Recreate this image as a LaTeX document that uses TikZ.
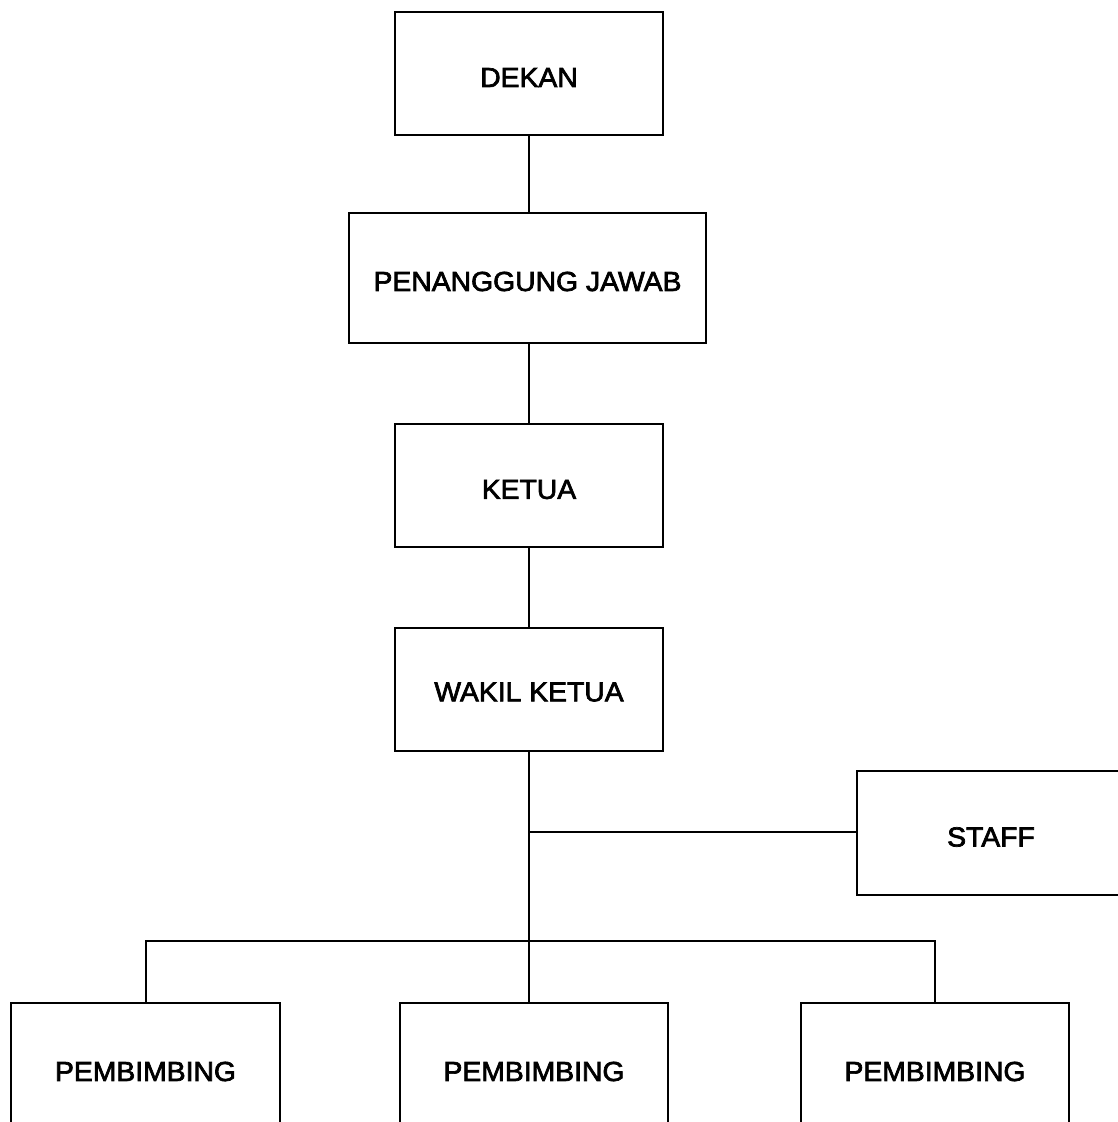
\documentclass[tikz,border=0pt]{standalone}
\usepackage{fontspec}
\setmainfont{Liberation Sans}
\newfontfamily\lab[FakeStretch=1.03,FakeBold=2.5]{Liberation Sans}
\newcommand\lowr[2]{\raisebox{-#1}[\height][\depth]{#2}}
\begin{document}
\begin{tikzpicture}[x=1pt,y=-1pt,
  box/.style={draw=black,line width=2pt,fill=white,minimum width=268pt,minimum height=123pt,inner sep=0pt,font=\lab\fontsize{27.5}{30}\selectfont},
  link/.style={draw=black,line width=2pt}]
\useasboundingbox (0,0) rectangle (1118,1122);
\clip (0,0) rectangle (1118,1122);
\fill[white] (0,0) rectangle (1118,1122);
\node[box] (dekan) at (529,73) {\lowr{4.5pt}{DEKAN}};
\node[box,minimum width=357pt,minimum height=130pt] (pj) at (527.5,278) {\lowr{3.5pt}{PENANGGUNG JAWAB}};
\node[box] (ketua) at (529,485.5) {\lowr{4pt}{KETUA}};
\node[box] (wakil) at (529,689) {\lowr{3pt}{WAKIL KETUA}};
\node[box,minimum height=124pt] (staff) at (991,833) {\lowr{4pt}{STAFF}};
\node[box,minimum width=269pt,minimum height=134pt] (p1) at (145.5,1070) {\lowr{1.5pt}{PEMBIMBING}};
\node[box,minimum height=134pt] (p2) at (534,1070) {\lowr{1.5pt}{PEMBIMBING}};
\node[box,minimum height=134pt] (p3) at (935,1070) {\lowr{1.5pt}{PEMBIMBING}};
\coordinate (j1) at (529,832);
\coordinate (bus) at (529,941);
\draw[link] (dekan.south -| 529,0) -- (pj.north -| 529,0);
\draw[link] (pj.south -| 529,0) -- (ketua.north);
\draw[link] (ketua.south) -- (wakil.north);
\draw[link] (wakil.south) -- (bus) -- (bus |- p2.north);
\draw[link] (j1) -- (staff.west |- j1);
\draw[link] (p1.north) -- (p1.north |- bus) -- (p3.north |- bus) -- (p3.north);
\end{tikzpicture}
\end{document}
